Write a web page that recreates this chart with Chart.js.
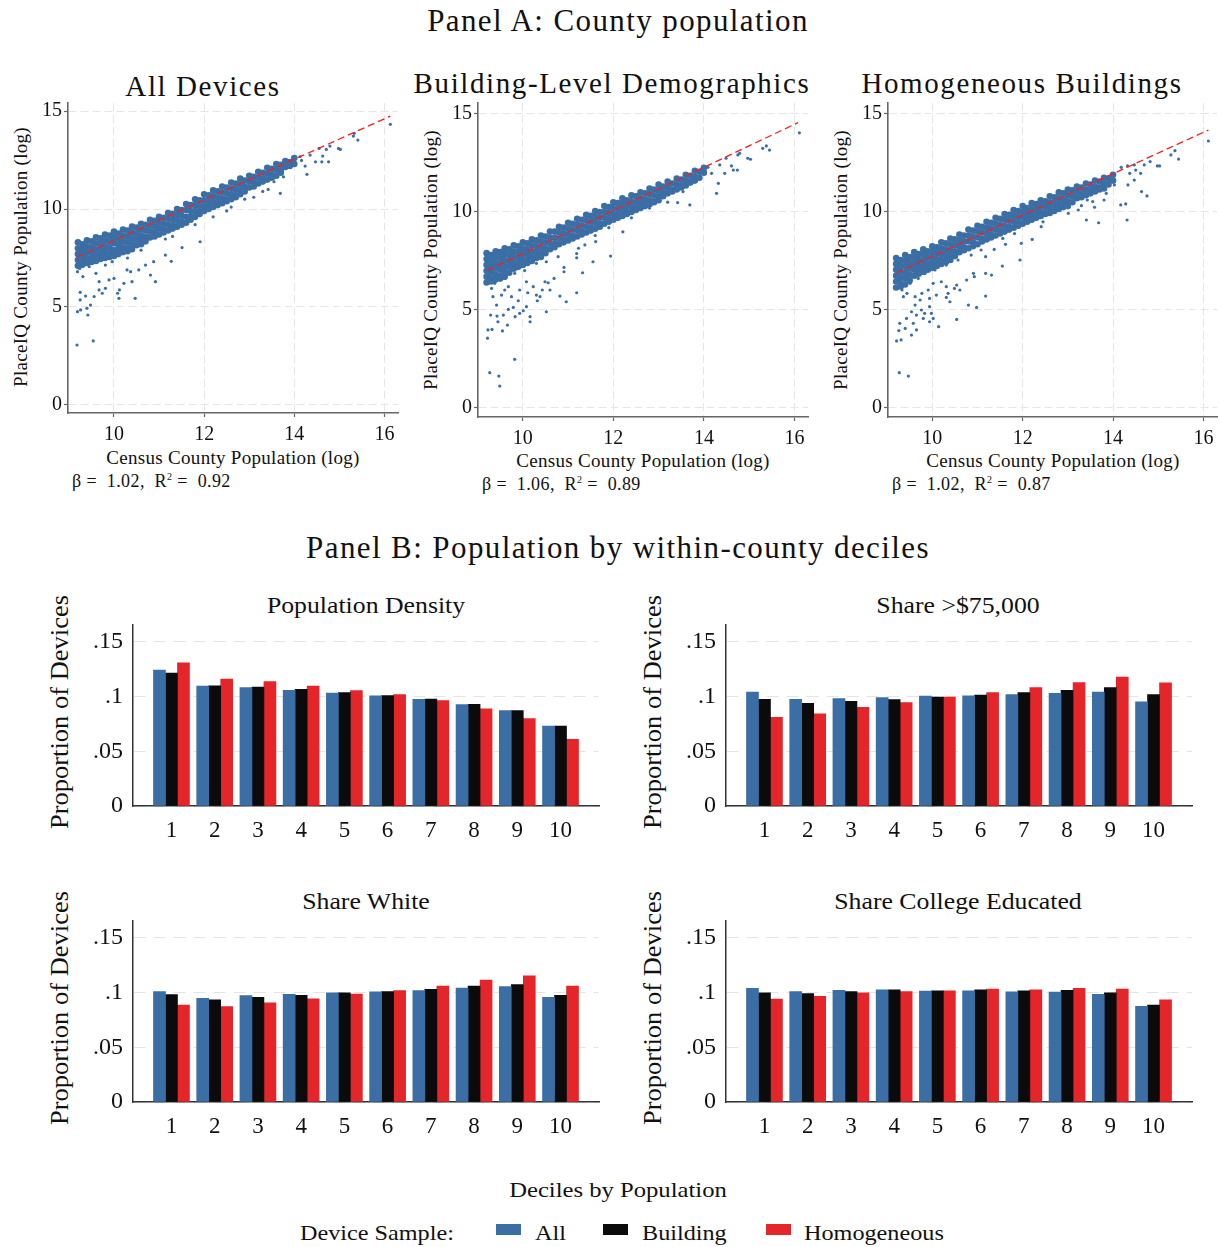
<!DOCTYPE html>
<html>
<head>
<meta charset="utf-8">
<script src="https://cdn.jsdelivr.net/npm/chart.js@4.4.0/dist/chart.umd.min.js"></script>
<style>
body { margin: 0; background: #fff; width: 1221px; height: 1247px; position: relative; overflow: hidden; font-family: "Liberation Serif", serif; color: #111; }
canvas { position: absolute; }
.t { position: absolute; transform: translate(-50%, -50%); white-space: nowrap; line-height: 1; }
.big { font-size: 31px; letter-spacing: 1.4px; }
.sub { font-size: 29px; letter-spacing: 1.6px; }
.ax { font-size: 19px; letter-spacing: 0.3px; }
.rot { transform: translate(-50%, -50%) rotate(-90deg); }
.wide { transform: translate(-50%, -50%) scaleX(1.12); }
.rotwide { transform: translate(-50%, -50%) rotate(-90deg) scaleX(1.06); }
.l { position: absolute; white-space: nowrap; line-height: 1; transform-origin: left center; transform: translateY(-50%); }
.lw { transform: translateY(-50%) scaleX(1.1); }
.beta { font-size: 18px; letter-spacing: 0.4px; }
.box { position: absolute; width: 25px; height: 11px; }
</style>
</head>
<body>

<div class="t big" style="left:618px; top:20px;">Panel A: County population</div>

<div class="t sub" style="left:203px; top:86px;">All Devices</div>
<div class="t sub" style="left:612px; top:83px;">Building-Level Demographics</div>
<div class="t sub" style="left:1022px; top:83px;">Homogeneous Buildings</div>

<div class="t rot ax" style="left:20px; top:257px;">PlaceIQ County Population (log)</div>
<div class="t rot ax" style="left:430px; top:260px;">PlaceIQ County Population (log)</div>
<div class="t rot ax" style="left:840px; top:260px;">PlaceIQ County Population (log)</div>

<div class="t ax" style="left:233px; top:457px;">Census County Population (log)</div>
<div class="t ax" style="left:643px; top:460px;">Census County Population (log)</div>
<div class="t ax" style="left:1053px; top:460px;">Census County Population (log)</div>

<div class="l beta" style="left:72px; top:481px;">β =&nbsp; 1.02,&nbsp; R<sup style="font-size:10px">2</sup> =&nbsp; 0.92</div>
<div class="l beta" style="left:482px; top:484px;">β =&nbsp; 1.06,&nbsp; R<sup style="font-size:10px">2</sup> =&nbsp; 0.89</div>
<div class="l beta" style="left:892px; top:484px;">β =&nbsp; 1.02,&nbsp; R<sup style="font-size:10px">2</sup> =&nbsp; 0.87</div>

<canvas id="sc1" width="410" height="366" style="left:0px; top:89px;"></canvas>
<canvas id="sc2" width="410" height="370" style="left:405px; top:89px;"></canvas>
<canvas id="sc3" width="406" height="370" style="left:815px; top:89px;"></canvas>

<div class="t big" style="left:618px; top:547px;">Panel B: Population by within-county deciles</div>

<div class="t wide" style="left:366px; top:605px; font-size:23px;">Population Density</div>
<div class="t wide" style="left:958px; top:605px; font-size:23px;">Share &gt;$75,000</div>
<div class="t wide" style="left:366px; top:901px; font-size:23px;">Share White</div>
<div class="t wide" style="left:958px; top:901px; font-size:23px;">Share College Educated</div>

<div class="t rotwide" style="left:59px; top:712px; font-size:25px;">Proportion of Devices</div>
<div class="t rotwide" style="left:652px; top:712px; font-size:25px;">Proportion of Devices</div>
<div class="t rotwide" style="left:59px; top:1008px; font-size:25px;">Proportion of Devices</div>
<div class="t rotwide" style="left:652px; top:1008px; font-size:25px;">Proportion of Devices</div>

<canvas id="b1" width="570" height="250" style="left:40px; top:600px;"></canvas>
<canvas id="b2" width="570" height="250" style="left:633px; top:600px;"></canvas>
<canvas id="b3" width="570" height="250" style="left:40px; top:896px;"></canvas>
<canvas id="b4" width="570" height="250" style="left:633px; top:896px;"></canvas>

<div class="t wide" style="left:618px; top:1190px; font-size:22px;">Deciles by Population</div>
<div class="l lw" style="left:300px; top:1233px; font-size:22px;">Device Sample:</div>
<div class="box" style="left:496px; top:1224px; background:#3a6ea5;"></div>
<div class="l lw" style="left:535px; top:1233px; font-size:22px;">All</div>
<div class="box" style="left:603px; top:1224px; background:#0b0b0b;"></div>
<div class="l lw" style="left:642px; top:1233px; font-size:22px;">Building</div>
<div class="box" style="left:766px; top:1224px; background:#e4262a;"></div>
<div class="l lw" style="left:804px; top:1233px; font-size:22px;">Homogeneous</div>

<script>
////
///////////////////// Data /////////////////////
////

// Panel A: dense band rows are [x, y1, y2, ...], outliers are [x, y]
const allBand = [
    [9.2, 8.3, 8.0, 7.7, 7.4, 7.1],
    [9.3, 8.2, 7.9, 7.6, 7.3, 7.15],
    [9.4, 8.4, 8.1, 7.8, 7.5, 7.25],
    [9.5, 8.35, 8.05, 7.75, 7.45, 7.3],
    [9.6, 8.55, 8.25, 7.95, 7.65, 7.35],
    [9.7, 8.5, 8.2, 7.9, 7.6, 7.45],
    [9.8, 8.7, 8.4, 8.1, 7.8, 7.5],
    [9.9, 8.65, 8.35, 8.05, 7.75, 7.55],
    [10.0, 8.85, 8.55, 8.25, 7.9, 7.6],
    [10.1, 8.75, 8.45, 8.15, 7.85, 7.7],
    [10.2, 8.95, 8.65, 8.35, 8.05, 7.8],
    [10.3, 8.9, 8.6, 8.3, 8.0, 7.85],
    [10.4, 9.1, 8.8, 8.5, 8.2, 7.95],
    [10.5, 9.05, 8.75, 8.45, 8.15],
    [10.6, 9.25, 8.95, 8.65, 8.4, 8.2],
    [10.7, 9.2, 8.9, 8.6, 8.35],
    [10.8, 9.45, 9.15, 8.85, 8.55],
    [10.9, 9.4, 9.1, 8.8, 8.6],
    [11.0, 9.6, 9.3, 9.0, 8.7],
    [11.1, 9.55, 9.25, 8.95, 8.8],
    [11.2, 9.8, 9.5, 9.2, 8.9],
    [11.3, 9.75, 9.45, 9.15, 9.0],
    [11.4, 10.0, 9.7, 9.4, 9.1],
    [11.5, 9.95, 9.65, 9.35, 9.2],
    [11.6, 10.25, 9.95, 9.6, 9.3],
    [11.7, 10.2, 9.9, 9.6, 9.45],
    [11.8, 10.5, 10.2, 9.9, 9.6],
    [11.9, 10.45, 10.15, 9.85, 9.75],
    [12.0, 10.75, 10.45, 10.15, 9.9],
    [12.1, 10.7, 10.4, 10.1, 10.0],
    [12.2, 10.95, 10.65, 10.35, 10.1],
    [12.3, 10.9, 10.6, 10.3, 10.2],
    [12.4, 11.15, 10.85, 10.55, 10.3],
    [12.5, 11.1, 10.8, 10.5, 10.4],
    [12.6, 11.35, 11.05, 10.75, 10.5],
    [12.7, 11.3, 11.0, 10.7, 10.6],
    [12.8, 11.55, 11.25, 10.95, 10.75],
    [12.9, 11.45, 11.15, 10.9],
    [13.0, 11.7, 11.4, 11.1],
    [13.1, 11.65, 11.35, 11.15],
    [13.2, 11.9, 11.6, 11.3],
    [13.3, 11.85, 11.55, 11.4],
    [13.4, 12.1, 11.8, 11.5],
    [13.5, 12.05, 11.75, 11.6],
    [13.6, 12.3, 12.0, 11.7],
    [13.7, 12.25, 11.95, 11.85],
    [13.8, 12.45, 12.15],
    [13.9, 12.4, 12.2],
    [14.0, 12.6, 12.3]
];
const allOut = [
    [9.18, 3.06], [9.54, 3.27], [9.19, 4.76], [9.26, 4.85], [9.42, 4.59], [9.25, 5.36], [9.40, 4.93],
    [9.48, 5.10], [9.56, 5.53], [9.37, 5.56], [9.25, 5.75], [9.67, 5.87], [9.74, 5.70], [9.81, 5.95],
    [9.89, 6.38], [10.0, 6.46], [10.08, 5.70], [10.11, 5.44], [10.12, 5.87], [10.22, 6.21], [10.29, 6.89],
    [10.37, 6.80], [10.40, 6.29], [10.47, 5.44], [10.55, 6.89], [10.70, 7.14], [10.81, 6.63], [10.92, 6.29],
    [10.88, 7.31], [11.14, 7.65], [11.27, 7.33], [11.14, 8.47], [11.51, 8.03], [11.91, 8.33], [9.45, 7.06],
    [9.60, 6.72], [9.67, 6.29], [9.24, 6.97], [9.31, 6.55], [9.19, 6.80], [9.96, 7.31], [9.81, 7.14],
    [12.2, 9.6], [12.5, 9.9], [12.9, 10.5], [13.1, 10.6], [11.8, 9.2], [12.6, 10.1], [13.3, 10.9],
    [11.3, 8.6], [10.6, 7.9], [10.3, 7.5],
    [13.42, 11.0], [13.69, 10.80], [13.55, 11.39], [13.76, 11.64], [14.28, 11.77], [14.24, 12.19],
    [14.47, 12.41], [14.61, 12.41], [14.76, 12.41], [14.63, 12.70], [14.71, 13.04], [14.79, 13.21],
    [14.55, 13.09], [14.98, 13.09], [15.02, 13.04], [15.31, 13.72], [15.41, 13.52], [15.33, 13.86],
    [16.13, 14.32], [14.16, 12.48], [14.0, 12.34], [14.35, 12.75], [13.85, 12.16], [14.13, 12.68]
];
const allFitX = [9.18, 16.13];
const allFitY = [7.55, 14.74];

const bldBand = [
    [9.2, 7.9, 7.6, 7.3, 7.0, 6.7, 6.4],
    [9.3, 7.8, 7.5, 7.2, 6.9, 6.6, 6.45],
    [9.4, 8.0, 7.7, 7.4, 7.1, 6.8, 6.55],
    [9.5, 7.95, 7.65, 7.35, 7.05, 6.75, 6.6],
    [9.6, 8.15, 7.85, 7.55, 7.25, 6.95, 6.7],
    [9.7, 8.1, 7.8, 7.5, 7.2, 6.9],
    [9.8, 8.3, 8.0, 7.7, 7.4, 7.1],
    [9.9, 8.25, 7.95, 7.65, 7.35, 7.2],
    [10.0, 8.45, 8.15, 7.85, 7.55, 7.3],
    [10.1, 8.4, 8.1, 7.8, 7.5, 7.4],
    [10.2, 8.6, 8.3, 8.0, 7.7, 7.5],
    [10.3, 8.55, 8.25, 7.95, 7.65],
    [10.4, 8.8, 8.5, 8.2, 7.9, 7.7],
    [10.5, 8.75, 8.45, 8.15, 7.9],
    [10.6, 9.0, 8.7, 8.4, 8.1],
    [10.7, 9.0, 8.7, 8.4, 8.2],
    [10.8, 9.25, 8.95, 8.65, 8.35],
    [10.9, 9.2, 8.9, 8.6, 8.45],
    [11.0, 9.45, 9.15, 8.85, 8.55],
    [11.1, 9.4, 9.1, 8.8, 8.65],
    [11.2, 9.65, 9.35, 9.05, 8.75],
    [11.3, 9.6, 9.3, 9.0, 8.85],
    [11.4, 9.85, 9.55, 9.25, 8.95],
    [11.5, 9.8, 9.5, 9.2, 9.05],
    [11.6, 10.05, 9.75, 9.45, 9.15],
    [11.7, 10.0, 9.7, 9.4, 9.25],
    [11.8, 10.3, 10.0, 9.7, 9.4],
    [11.9, 10.25, 9.95, 9.65, 9.5],
    [12.0, 10.5, 10.2, 9.9, 9.6],
    [12.1, 10.45, 10.15, 9.85, 9.7],
    [12.2, 10.7, 10.4, 10.1, 9.8],
    [12.3, 10.6, 10.3, 10.0, 9.9],
    [12.4, 10.85, 10.55, 10.25, 10.0],
    [12.5, 10.8, 10.5, 10.2, 10.1],
    [12.6, 11.0, 10.7, 10.4, 10.2],
    [12.7, 10.95, 10.65, 10.35, 10.3],
    [12.8, 11.2, 10.9, 10.6, 10.4],
    [12.9, 11.15, 10.85, 10.55, 10.5],
    [13.0, 11.4, 11.1, 10.8, 10.6],
    [13.1, 11.3, 11.0, 10.8],
    [13.2, 11.55, 11.25, 10.95],
    [13.3, 11.45, 11.15, 11.05],
    [13.4, 11.7, 11.4, 11.15],
    [13.5, 11.65, 11.35, 11.25],
    [13.6, 11.9, 11.6, 11.35],
    [13.7, 11.85, 11.55, 11.5],
    [13.8, 12.1, 11.8, 11.6],
    [13.9, 12.05, 11.75],
    [14.0, 12.25, 12.0]
];
const bldOut = [
    [9.27, 1.80], [9.47, 1.63], [9.49, 1.12], [9.82, 2.48], [9.22, 3.56], [9.23, 3.98], [9.32, 4.01],
    [9.29, 4.74], [9.43, 4.69], [9.55, 3.93], [9.66, 4.23], [9.45, 4.40], [9.57, 4.74], [9.68, 5.03],
    [9.79, 5.13], [9.93, 4.83], [10.01, 4.96], [9.83, 4.66], [10.16, 4.66], [10.16, 4.40], [9.90, 5.47],
    [10.08, 5.17], [9.42, 5.25], [9.34, 5.68], [9.53, 5.76], [9.60, 6.02], [9.75, 5.68], [9.93, 6.02],
    [10.08, 6.44], [10.11, 5.88], [10.23, 6.19], [10.30, 5.76], [10.38, 5.68], [10.32, 5.47], [10.43, 6.02],
    [10.49, 6.44], [10.56, 6.39], [10.60, 6.02], [10.52, 4.91], [10.69, 6.61], [10.82, 5.71], [10.91, 7.17],
    [10.91, 6.95], [10.96, 5.42], [11.19, 7.88], [11.19, 7.66], [11.19, 5.88], [11.32, 6.90], [11.55, 7.46],
    [11.61, 8.49], [11.94, 7.75], [12.21, 8.99], [9.31, 6.10], [9.23, 6.53], [9.38, 6.36], [9.68, 6.19],
    [9.42, 6.78], [9.60, 6.61], [9.82, 6.87], [10.04, 7.01], [10.30, 7.38], [10.52, 7.46], [10.78, 7.72],
    [11.23, 8.15], [11.37, 8.32], [12.4, 9.7], [12.8, 10.2], [13.2, 10.5], [11.6, 8.8], [11.9, 9.2],
    [12.99, 10.61], [13.21, 10.95], [13.42, 10.48], [13.69, 10.36], [13.54, 11.04], [13.73, 11.46],
    [13.80, 11.72], [14.17, 11.97], [14.28, 10.95], [14.32, 11.46], [14.46, 11.97], [14.61, 12.35],
    [14.65, 12.14], [14.74, 12.14], [14.49, 12.74], [14.75, 12.91], [14.79, 12.99], [14.97, 12.74],
    [15.03, 12.69], [15.30, 13.25], [15.38, 13.37], [15.45, 13.16], [16.11, 14.04], [14.09, 12.28],
    [14.35, 12.40]
];
const bldFitX = [9.21, 16.08];
const bldFitY = [7.01, 14.56];

const homBand = [
    [9.2, 7.65, 7.35, 7.05, 6.75, 6.45, 6.15],
    [9.3, 7.55, 7.25, 6.95, 6.65, 6.35, 6.2],
    [9.4, 7.8, 7.5, 7.2, 6.9, 6.6, 6.3],
    [9.5, 7.7, 7.4, 7.1, 6.8, 6.5],
    [9.6, 7.95, 7.65, 7.35, 7.05, 6.75],
    [9.7, 7.85, 7.55, 7.25, 6.95, 6.85],
    [9.8, 8.1, 7.8, 7.5, 7.2, 6.95],
    [9.9, 8.0, 7.7, 7.4, 7.1, 7.05],
    [10.0, 8.25, 7.95, 7.65, 7.35, 7.15],
    [10.1, 8.2, 7.9, 7.6, 7.3, 7.25],
    [10.2, 8.45, 8.15, 7.85, 7.55, 7.35],
    [10.3, 8.4, 8.1, 7.8, 7.5, 7.45],
    [10.4, 8.65, 8.35, 8.05, 7.75, 7.55],
    [10.5, 8.6, 8.3, 8.0, 7.75],
    [10.6, 8.85, 8.55, 8.25, 7.95],
    [10.7, 8.8, 8.5, 8.2, 8.05],
    [10.8, 9.1, 8.8, 8.5, 8.15],
    [10.9, 9.05, 8.75, 8.45, 8.25],
    [11.0, 9.3, 9.0, 8.7, 8.35],
    [11.1, 9.25, 8.95, 8.65, 8.5],
    [11.2, 9.5, 9.2, 8.9, 8.6],
    [11.3, 9.45, 9.15, 8.85, 8.7],
    [11.4, 9.7, 9.4, 9.1, 8.8],
    [11.5, 9.65, 9.35, 9.05, 8.9],
    [11.6, 9.9, 9.6, 9.3, 9.0],
    [11.7, 9.85, 9.55, 9.25, 9.1],
    [11.8, 10.1, 9.8, 9.5, 9.2],
    [11.9, 10.05, 9.75, 9.45, 9.3],
    [12.0, 10.3, 10.0, 9.7, 9.4],
    [12.1, 10.2, 9.9, 9.6, 9.5],
    [12.2, 10.45, 10.15, 9.85, 9.6],
    [12.3, 10.4, 10.1, 9.8, 9.7],
    [12.4, 10.6, 10.3, 10.0, 9.8],
    [12.5, 10.55, 10.25, 9.95, 9.9],
    [12.6, 10.8, 10.5, 10.2, 9.95],
    [12.7, 10.75, 10.45, 10.15, 10.05],
    [12.8, 11.0, 10.7, 10.4, 10.15],
    [12.9, 10.95, 10.65, 10.35, 10.25],
    [13.0, 11.15, 10.85, 10.55, 10.3],
    [13.1, 11.1, 10.8, 10.5],
    [13.2, 11.3, 11.0, 10.7],
    [13.3, 11.25, 10.95, 10.75],
    [13.4, 11.45, 11.15, 10.85],
    [13.5, 11.4, 11.1, 10.95],
    [13.6, 11.6, 11.3, 11.05],
    [13.7, 11.55, 11.25, 11.15],
    [13.8, 11.75, 11.45, 11.2],
    [13.9, 11.7, 11.4],
    [14.0, 11.9, 11.6]
];
const homOut = [
    [9.27, 1.80], [9.47, 1.63], [9.21, 3.42], [9.31, 3.47], [9.26, 3.95], [9.28, 4.32], [9.40, 4.06],
    [9.54, 3.72], [9.43, 4.57], [9.58, 4.32], [9.65, 3.98], [9.54, 4.91], [9.65, 4.74], [9.76, 5.00],
    [9.80, 4.57], [9.83, 4.83], [9.94, 5.17], [9.98, 4.83], [10.02, 4.57], [9.94, 4.40], [10.14, 4.15],
    [9.62, 5.25], [9.73, 5.51], [9.36, 5.68], [9.33, 6.02], [9.44, 5.85], [9.62, 5.68], [9.77, 5.85],
    [9.91, 6.02], [10.09, 5.76], [9.94, 5.59], [10.02, 6.36], [10.20, 6.44], [10.31, 6.19], [10.31, 5.64],
    [10.39, 5.42], [10.35, 5.85], [10.49, 6.10], [10.54, 6.27], [10.61, 6.02], [10.54, 4.52], [10.76, 6.53],
    [10.80, 5.25], [10.91, 6.87], [10.93, 6.70], [10.98, 5.13], [11.18, 7.72], [11.18, 6.87], [11.18, 5.71],
    [11.31, 6.78], [11.37, 8.09], [11.55, 7.24], [11.62, 8.35], [11.94, 7.55], [11.97, 8.40], [12.21, 8.60],
    [9.28, 6.53], [9.40, 6.70], [9.51, 6.36], [9.69, 6.61], [9.84, 6.87], [10.06, 7.04], [10.31, 7.29],
    [10.57, 7.55], [10.86, 7.80], [11.08, 8.06], [11.56, 8.65], [11.82, 8.90], [12.41, 9.25], [12.45, 9.50],
    [12.71, 10.01], [12.86, 10.27], [13.01, 9.93], [13.23, 10.10], [13.30, 10.32], [13.41, 9.59],
    [13.43, 10.61], [13.55, 10.53], [13.59, 10.24], [13.68, 9.45], [13.80, 10.61], [13.85, 10.95],
    [14.03, 11.38], [14.17, 10.36], [14.28, 10.41], [14.31, 9.59], [14.33, 11.38], [14.47, 11.63],
    [14.63, 11.04], [14.75, 10.82], [14.61, 11.97], [14.50, 12.14], [14.47, 12.40], [14.69, 12.40],
    [14.82, 12.57], [14.98, 12.35], [15.03, 12.35], [15.28, 12.91], [15.37, 13.13], [15.45, 12.70],
    [16.11, 13.62], [14.18, 12.28], [14.37, 11.97], [14.32, 12.35]
];
const homFitX = [9.21, 16.11];
const homFitY = [6.90, 14.18];

const scatterXTicks = [10, 12, 14, 16];
const scatterYTicks = [0, 5, 10, 15];

// Panel B: share of devices by decile
const deciles = [1, 2, 3, 4, 5, 6, 7, 8, 9, 10];
const barYTicks = [0, 0.05, 0.1, 0.15];
const barYLabels = ['0', '.05', '.1', '.15'];

const densityAll = [0.1240, 0.1096, 0.1082, 0.1056, 0.1030, 0.1006, 0.0974, 0.0926, 0.0871, 0.0730];
const densityBld = [0.1213, 0.1097, 0.1085, 0.1065, 0.1035, 0.1009, 0.0976, 0.0928, 0.0871, 0.0730];
const densityHom = [0.1307, 0.1158, 0.1135, 0.1094, 0.1053, 0.1018, 0.0962, 0.0887, 0.0799, 0.0608];

const incomeAll = [0.1041, 0.0974, 0.0980, 0.0991, 0.1003, 0.1006, 0.1018, 0.1029, 0.1041, 0.0950];
const incomeBld = [0.0974, 0.0938, 0.0956, 0.0971, 0.0994, 0.1012, 0.1035, 0.1056, 0.1082, 0.1018];
const incomeHom = [0.0809, 0.0841, 0.0900, 0.0944, 0.0994, 0.1035, 0.1082, 0.1126, 0.1176, 0.1124];

const whiteAll = [0.1009, 0.0947, 0.0971, 0.0982, 0.0997, 0.1006, 0.1018, 0.1041, 0.1053, 0.0956];
const whiteBld = [0.0980, 0.0933, 0.0956, 0.0974, 0.0997, 0.1009, 0.1029, 0.1058, 0.1073, 0.0974];
const whiteHom = [0.0886, 0.0871, 0.0906, 0.0942, 0.0985, 0.1018, 0.1058, 0.1114, 0.1152, 0.1058];

const collegeAll = [0.1038, 0.1009, 0.1020, 0.1023, 0.1012, 0.1015, 0.1006, 0.1003, 0.0982, 0.0874];
const collegeBld = [0.0997, 0.0991, 0.1009, 0.1023, 0.1015, 0.1023, 0.1015, 0.1020, 0.0997, 0.0886];
const collegeHom = [0.0939, 0.0965, 0.0997, 0.1009, 0.1015, 0.1032, 0.1023, 0.1038, 0.1032, 0.0933];

////
///////////////////// Styles /////////////////////
////

const blue = '#3a6ea5';
const black = '#0b0b0b';
const red = '#e4262a';
const serif = 'Liberation Serif';

////
///////////////////// Scatter Charts /////////////////////
////

function bandPoints(rows) {
    return rows.flatMap(r => r.slice(1).map(y => ({ x: r[0], y: y })));
}

function pairPoints(pairs) {
    return pairs.map(p => ({ x: p[0], y: p[1] }));
}

function scatterChart(id, band, out, fitX, fitY, ax) {
    new Chart(document.getElementById(id), {
        type: 'scatter',
        data: {
            datasets: [
                {
                    type: 'line',
                    data: fitX.map((x, i) => ({ x: x, y: fitY[i] })),
                    borderColor: '#ff1a1a',
                    borderWidth: 1.3,
                    borderDash: [7, 4],
                    pointRadius: 0,
                    fill: false
                },
                {
                    data: pairPoints(out),
                    backgroundColor: blue,
                    borderWidth: 0,
                    pointRadius: 1.6
                },
                {
                    data: bandPoints(band),
                    backgroundColor: blue,
                    borderWidth: 0,
                    pointRadius: 3.3
                }
            ]
        },
        options: {
            responsive: false,
            animation: false,
            events: [],
            layout: { padding: { top: 14, right: ax.right, left: 0, bottom: 0 } },
            plugins: { legend: { display: false }, tooltip: { enabled: false } },
            scales: {
                x: {
                    type: 'linear',
                    min: ax.xMin,
                    max: ax.xMax,
                    afterBuildTicks: s => { s.ticks = scatterXTicks.map(v => ({ value: v })); },
                    afterFit: s => { s.height = 42; },
                    grid: { color: '#e6e6e6', lineWidth: 1, tickLength: 4, tickColor: '#666', tickWidth: 1.2 },
                    border: { color: '#666', width: 1.6, dash: [8, 4] },
                    ticks: { font: { family: serif, size: 20 }, color: '#111', padding: 6, maxRotation: 0 }
                },
                y: {
                    type: 'linear',
                    min: ax.yMin,
                    max: ax.yMax,
                    afterBuildTicks: s => { s.ticks = scatterYTicks.map(v => ({ value: v })); },
                    afterFit: s => { s.width = ax.yW; },
                    grid: { color: '#e6e6e6', lineWidth: 1, tickLength: 4, tickColor: '#666', tickWidth: 1.2 },
                    border: { color: '#666', width: 1.6, dash: [8, 4] },
                    ticks: { font: { family: serif, size: 20 }, color: '#111', padding: 2 }
                }
            }
        }
    });
}

scatterChart('sc1', allBand, allOut, allFitX, allFitY, { xMin: 8.98, xMax: 16.3, yMin: -0.41, yMax: 15.41, yW: 68, right: 12 });
scatterChart('sc2', bldBand, bldOut, bldFitX, bldFitY, { xMin: 9.01, xMax: 16.3, yMin: -0.46, yMax: 15.56, yW: 73, right: 7 });
scatterChart('sc3', homBand, homOut, homFitX, homFitY, { xMin: 9.02, xMax: 16.3, yMin: -0.46, yMax: 15.56, yW: 73, right: 3 });

////
///////////////////// Bar Charts /////////////////////
////

function barSet(values, color) {
    return {
        data: deciles.map((d, i) => ({ x: d, y: values[i] })),
        backgroundColor: color,
        borderWidth: 0,
        barThickness: 12
    };
}

function barChart(id, all, bld, hom) {
    new Chart(document.getElementById(id), {
        type: 'bar',
        data: {
            datasets: [barSet(all, blue), barSet(bld, black), barSet(hom, red)]
        },
        options: {
            responsive: false,
            animation: false,
            events: [],
            layout: { padding: { top: 17, right: 11, left: 0, bottom: 0 } },
            plugins: { legend: { display: false }, tooltip: { enabled: false } },
            scales: {
                x: {
                    type: 'linear',
                    offset: false,
                    min: 0.11,
                    max: 10.89,
                    afterBuildTicks: s => { s.ticks = deciles.map(v => ({ value: v })); },
                    afterFit: s => { s.height = 44; },
                    grid: { display: false, drawTicks: false, offset: false },
                    border: { color: '#333', width: 1.5 },
                    ticks: { font: { family: serif, size: 23 }, color: '#111', padding: 11, maxRotation: 0 }
                },
                y: {
                    type: 'linear',
                    min: 0,
                    max: 0.1658,
                    afterBuildTicks: s => { s.ticks = barYTicks.map(v => ({ value: v })); },
                    afterFit: s => { s.width = 93; },
                    grid: { color: '#e4e4e4', lineWidth: 1, drawTicks: false },
                    border: { color: '#333', width: 1.5, dash: [12, 8] },
                    ticks: {
                        font: { family: serif, size: 24 },
                        color: '#111',
                        padding: 10,
                        callback: (v, i) => barYLabels[i]
                    }
                }
            }
        }
    });
}

barChart('b1', densityAll, densityBld, densityHom);
barChart('b2', incomeAll, incomeBld, incomeHom);
barChart('b3', whiteAll, whiteBld, whiteHom);
barChart('b4', collegeAll, collegeBld, collegeHom);
</script>
</body>
</html>
